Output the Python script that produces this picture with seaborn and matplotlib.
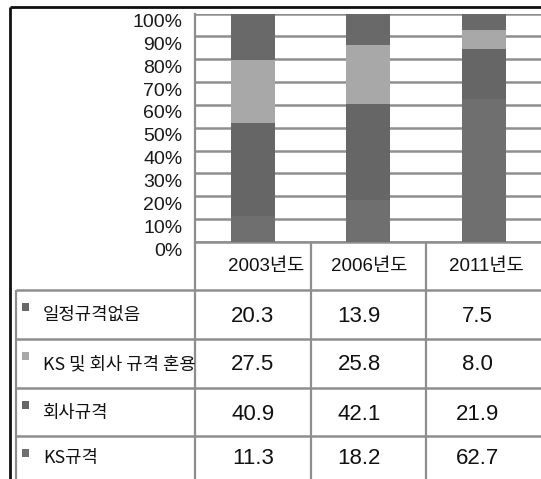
import numpy as np
import pandas as pd
import seaborn as sns
import matplotlib.pyplot as plt
from matplotlib.transforms import ScaledTranslation

# data (percent), stacking order: bottom -> top = KS규격, 회사규격, 혼용, 없음
years = ['2003년도', '2006년도', '2011년도']
series = ['일정규격없음', 'KS 및 회사 규격 혼용', '회사규격', 'KS규격']
no_std = [20.3, 13.9, 7.5]
mixed = [27.5, 25.8, 8.0]
company = [40.9, 42.1, 21.9]
ks_std = [11.3, 18.2, 62.7]
colors = ['#696969', '#a8a8a8', '#666666', '#6f6f6f']
pct_ticks = list(range(0, 101, 10))

sns.set_theme(style='white')
plt.rcParams['font.family'] = ['Liberation Sans', 'Noto Sans CJK KR', 'DejaVu Sans']
narrow = ['Liberation Sans Narrow', 'Liberation Sans', 'DejaVu Sans']

W, H = 541, 479
fig = plt.figure(figsize=(W / 100, H / 100), dpi=100)
fig.patch.set_facecolor('white')

# layout in pixels
col_edges = [195, 310.5, 426]
col_w = 115.5
plot_top, plot_bot = 13.5, 242
row_lines = [290, 339, 388, 436]
tab_left = 16
grid_c = '#8e8e8e'

# background axes for table and frame (pixel coords)
ax_t = fig.add_axes([0, 0, 1, 1])
ax_t.set_xlim(0, W)
ax_t.set_ylim(H, 0)
ax_t.axis('off')

# bar axes
ax = fig.add_axes([col_edges[0] / W, (H - plot_bot) / H,
                   (W - col_edges[0]) / W, (plot_bot - plot_top) / H])
ax.patch.set_alpha(0)

vals = [no_std, mixed, company, ks_std]
stack = np.cumsum(np.array(vals[::-1]), axis=0)[::-1]  # cumulative heights, top series first
for i, name in enumerate(series):
    d = pd.DataFrame({'year': years, 'value': stack[i]})
    sns.barplot(data=d, x='year', y='value', color=colors[i], width=0.38,
                saturation=1, ax=ax, zorder=3, linewidth=0)

ax.set_xlim(-0.5, -0.5 + (W - col_edges[0]) / col_w)
ax.set_ylim(0, 100)
ax.set_yticks(pct_ticks)
ax.set_yticklabels([f'{t}%' for t in pct_ticks], fontsize=14, color='#1a1a1a',
                   family=narrow)
ax.tick_params(axis='y', length=0, pad=9)
# labels sit a little below their gridlines in the original
shift = ScaledTranslation(0, -7 / 100, fig.dpi_scale_trans)
for lab in ax.get_yticklabels():
    lab.set_transform(lab.get_transform() + shift)
ax.set_xticks([])
ax.set_xlabel('')
ax.set_ylabel('')
ax.yaxis.grid(True, color=grid_c, lw=1.8, zorder=0)
ax.set_axisbelow(True)
for s in ['top', 'right', 'bottom']:
    ax.spines[s].set_visible(False)
ax.spines['left'].set_color(grid_c)
ax.spines['left'].set_linewidth(1.6)

# table grid
ax_t.hlines(plot_bot, col_edges[0], W, color=grid_c, lw=1.8)
ax_t.hlines(row_lines, tab_left, W, color=grid_c, lw=1.8)
ax_t.vlines(col_edges, plot_bot, H, color=grid_c, lw=1.6)
ax_t.vlines(tab_left, row_lines[0], H, color=grid_c, lw=1.6)

# outer frame
ax_t.plot([10, 10], [H, 7], color='#111111', lw=2, solid_capstyle='butt')
ax_t.plot([10, W], [7, 7], color='#111111', lw=2, solid_capstyle='butt')

centers = [e + col_w / 2 for e in col_edges]
head_shift = [13, 1, 3]
val_shift = [0, -9, -6]
for cx, dx, y in zip(centers, head_shift, years):
    ax_t.text(cx + dx, 266, y, ha='center', va='center', fontsize=13.5, color='#111111')

row_centers = [315, 364, 413, 458]
for r, (name, v, c) in enumerate(zip(series, vals, colors)):
    yc = row_centers[r]
    top = row_lines[r]
    ax_t.add_patch(plt.Rectangle((22, top + 13), 7, 8, color=c, lw=0))
    ax_t.text(43, yc, name, ha='left', va='center', fontsize=12.8, color='#111111',
              family=['Noto Sans CJK KR', 'DejaVu Sans'])
    for cx, dx, x in zip(centers, val_shift, v):
        ax_t.text(cx + dx, yc + 1, f'{x:.1f}', ha='center', va='center', fontsize=16,
                  color='#111111')

fig.savefig('out.png', dpi=100)
